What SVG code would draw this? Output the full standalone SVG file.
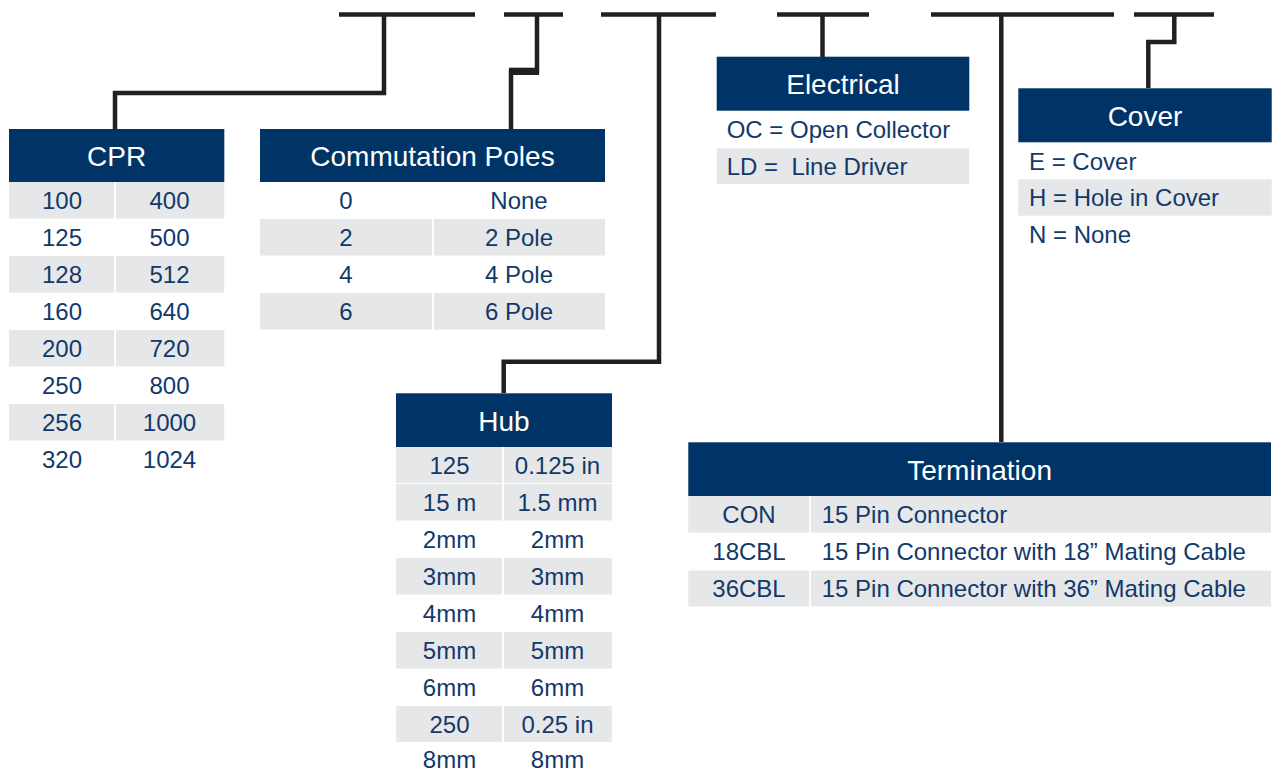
<svg xmlns="http://www.w3.org/2000/svg" width="1275" height="771" viewBox="0 0 1275 771">
<style>
.hdr{fill:#003466}
.g{fill:#e6e7e8}
.ht{font-family:"Liberation Sans",Arial,sans-serif;font-size:28px;fill:#ffffff;text-anchor:middle}
.ct{font-family:"Liberation Sans",Arial,sans-serif;font-size:24px;fill:#12396a;text-anchor:middle}
.lt{font-family:"Liberation Sans",Arial,sans-serif;font-size:24px;fill:#12396a}
.conn{fill:none;stroke:#231f20;stroke-width:4.5;stroke-linejoin:miter}
</style>
<rect width="1275" height="771" fill="#ffffff"/>
<g id="connectors">
<path class="conn" d="M339 14.5H475"/>
<path class="conn" d="M384 14.5V93H115V129"/>
<path class="conn" d="M504 14.5H563"/>
<path class="conn" d="M537 14.5V71.5H511V129"/>
<rect x="509" y="67.7" width="30" height="7.3" fill="#231f20"/>
<path class="conn" d="M601 14.5H716"/>
<path class="conn" d="M659 14.5V361.7H503.7V393"/>
<path class="conn" d="M777 14.5H869"/>
<path class="conn" d="M822.5 14.5V57"/>
<path class="conn" d="M931 14.5H1114"/>
<path class="conn" d="M1001.3 14.5V442"/>
<path class="conn" d="M1134 14.5H1214"/>
<path class="conn" d="M1174.3 14.5V42H1148.3V88"/>
</g>
<g id="cpr">
<rect class="hdr" x="9" y="129" width="215.3" height="53"/>
<text class="ht" x="116.6" y="166">CPR</text>
<rect class="g" x="9" y="182" width="105.3" height="36.5"/><rect class="g" x="116" y="182" width="108.3" height="36.5"/>
<rect class="g" x="9" y="256" width="105.3" height="36.5"/><rect class="g" x="116" y="256" width="108.3" height="36.5"/>
<rect class="g" x="9" y="330" width="105.3" height="36.5"/><rect class="g" x="116" y="330" width="108.3" height="36.5"/>
<rect class="g" x="9" y="404" width="105.3" height="36.5"/><rect class="g" x="116" y="404" width="108.3" height="36.5"/>
<text class="ct" x="62" y="209">100</text><text class="ct" x="169.5" y="209">400</text>
<text class="ct" x="62" y="246">125</text><text class="ct" x="169.5" y="246">500</text>
<text class="ct" x="62" y="283">128</text><text class="ct" x="169.5" y="283">512</text>
<text class="ct" x="62" y="320">160</text><text class="ct" x="169.5" y="320">640</text>
<text class="ct" x="62" y="357">200</text><text class="ct" x="169.5" y="357">720</text>
<text class="ct" x="62" y="394">250</text><text class="ct" x="169.5" y="394">800</text>
<text class="ct" x="62" y="431">256</text><text class="ct" x="169.5" y="431">1000</text>
<text class="ct" x="62" y="468">320</text><text class="ct" x="169.5" y="468">1024</text>
</g>
<g id="commutation-poles">
<rect class="hdr" x="260" y="129" width="345" height="53"/>
<text class="ht" x="432.5" y="166">Commutation Poles</text>
<rect class="g" x="260" y="219" width="172" height="36.5"/><rect class="g" x="434" y="219" width="171" height="36.5"/>
<rect class="g" x="260" y="293" width="172" height="36.5"/><rect class="g" x="434" y="293" width="171" height="36.5"/>
<text class="ct" x="346" y="209">0</text><text class="ct" x="519" y="209">None</text>
<text class="ct" x="346" y="246">2</text><text class="ct" x="519" y="246">2 Pole</text>
<text class="ct" x="346" y="283">4</text><text class="ct" x="519" y="283">4 Pole</text>
<text class="ct" x="346" y="320">6</text><text class="ct" x="519" y="320">6 Pole</text>
</g>
<g id="hub">
<rect class="hdr" x="396" y="393.3" width="216" height="53.7"/>
<text class="ht" x="504" y="431">Hub</text>
<rect class="g" x="396" y="447" width="106" height="36"/><rect class="g" x="504" y="447" width="108" height="36"/>
<rect class="g" x="396" y="484" width="106" height="36.5"/><rect class="g" x="504" y="484" width="108" height="36.5"/>
<rect class="g" x="396" y="558" width="106" height="36.5"/><rect class="g" x="504" y="558" width="108" height="36.5"/>
<rect class="g" x="396" y="632" width="106" height="36.5"/><rect class="g" x="504" y="632" width="108" height="36.5"/>
<rect class="g" x="396" y="706" width="106" height="36"/><rect class="g" x="504" y="706" width="108" height="36"/>
<text class="ct" x="449.5" y="474">125</text><text class="ct" x="557.5" y="474">0.125 in</text>
<text class="ct" x="449.5" y="511">15 m</text><text class="ct" x="557.5" y="511">1.5 mm</text>
<text class="ct" x="449.5" y="548">2mm</text><text class="ct" x="557.5" y="548">2mm</text>
<text class="ct" x="449.5" y="585">3mm</text><text class="ct" x="557.5" y="585">3mm</text>
<text class="ct" x="449.5" y="622">4mm</text><text class="ct" x="557.5" y="622">4mm</text>
<text class="ct" x="449.5" y="659">5mm</text><text class="ct" x="557.5" y="659">5mm</text>
<text class="ct" x="449.5" y="696">6mm</text><text class="ct" x="557.5" y="696">6mm</text>
<text class="ct" x="449.5" y="733">250</text><text class="ct" x="557.5" y="733">0.25 in</text>
<text class="ct" x="449.5" y="768">8mm</text><text class="ct" x="557.5" y="768">8mm</text>
</g>
<g id="electrical">
<rect class="hdr" x="716.7" y="56.7" width="252.6" height="54"/>
<text class="ht" x="843" y="94">Electrical</text>
<rect class="g" x="716.7" y="148.3" width="252.6" height="35.7"/>
<text class="lt" x="726.7" y="138">OC = Open Collector</text>
<text class="lt" x="726.7" y="175">LD =&#160; Line Driver</text>
</g>
<g id="cover">
<rect class="hdr" x="1018.3" y="88.3" width="253.4" height="54"/>
<text class="ht" x="1145" y="126">Cover</text>
<rect class="g" x="1018.3" y="179.3" width="253.4" height="36.4"/>
<text class="lt" x="1029" y="170">E = Cover</text>
<text class="lt" x="1029" y="206">H = Hole in Cover</text>
<text class="lt" x="1029" y="243">N = None</text>
</g>
<g id="termination">
<rect class="hdr" x="688.3" y="442.3" width="582.7" height="53.7"/>
<text class="ht" x="979.6" y="480">Termination</text>
<rect class="g" x="688.3" y="496" width="121" height="36.5"/><rect class="g" x="811" y="496" width="460" height="36.5"/>
<rect class="g" x="688.3" y="570.5" width="121" height="36"/><rect class="g" x="811" y="570.5" width="460" height="36"/>
<text class="ct" x="749" y="523">CON</text><text class="lt" x="821.7" y="523">15 Pin Connector</text>
<text class="ct" x="749" y="560">18CBL</text><text class="lt" x="821.7" y="560">15 Pin Connector with 18” Mating Cable</text>
<text class="ct" x="749" y="597">36CBL</text><text class="lt" x="821.7" y="597">15 Pin Connector with 36” Mating Cable</text>
</g>
</svg>
